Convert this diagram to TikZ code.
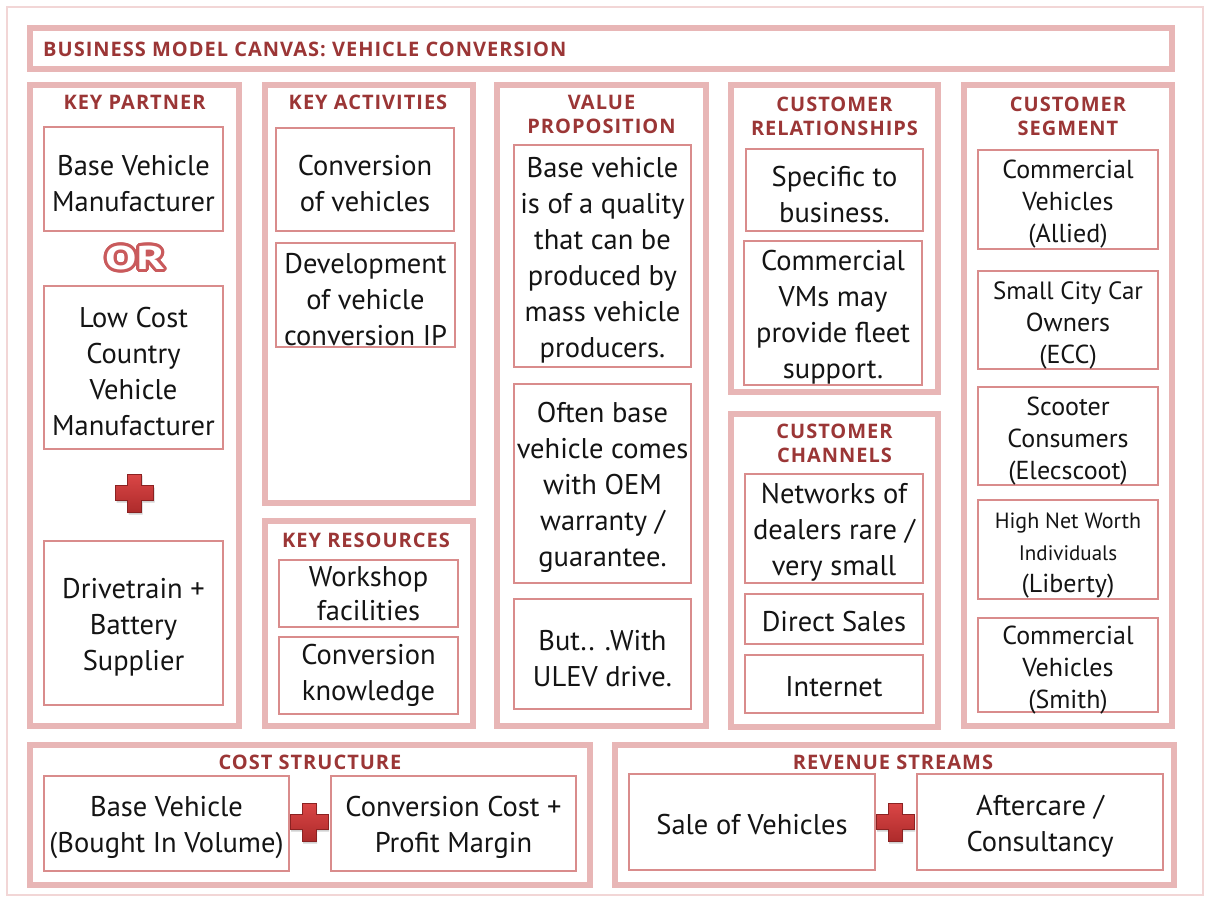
\documentclass[tikz,border=0pt]{standalone}
\usepackage{fontspec}
\setmainfont{PT Sans}
\newfontfamily\headfont{Open Sans}[LetterSpace=5]
\newcommand{\fl}{\rule{0pt}{28.5pt}}
\newcommand{\fls}{\rule{0pt}{28pt}}
\newcommand{\fone}{\rule{0pt}{25pt}}
\definecolor{framec}{HTML}{F2D6D6}
\definecolor{panelc}{HTML}{E8B6B6}
\definecolor{cellc}{HTML}{D98C8C}
\definecolor{headc}{HTML}{9B3636}
\definecolor{textc}{HTML}{141414}
\definecolor{plustop}{HTML}{DA4646}
\definecolor{plusbot}{HTML}{AE2B2B}
\definecolor{orc}{HTML}{C95A5C}
\tikzset{
  panel/.style={draw=panelc, line width=6pt, inner sep=0pt},
  cell/.style={draw=cellc, line width=2.5pt, fill=white, inner xsep=2pt, inner ysep=-12pt, align=center, text=textc,
    font=\fontsize{28.5}{36}\selectfont},
  cellS/.style={cell, font=\fontsize{26}{32}\selectfont},
  head/.style={text=headc, font=\headfont\bfseries\fontsize{20}{24}\selectfont, align=center, inner sep=0pt},
  orfont/.style={font=\bfseries\fontsize{33}{33}\selectfont, inner sep=0pt, xscale=1.42, transform shape},
  redplus/.pic={
    \fill[black, opacity=0.18] (-18,-5.5) -- (-6,-5.5) -- (-6,-17.5) -- (8,-17.5) -- (8,-5.5) -- (20,-5.5) -- (20,9.5) -- (8,9.5) -- (8,21.5) -- (-6,21.5) -- (-6,9.5) -- (-18,9.5) -- cycle;
    \shade[top color=plustop, bottom color=plusbot, draw=plusbot!80!black, line width=0.4pt]
      (-19,-7.5) -- (-7,-7.5) -- (-7,-19) -- (7,-19) -- (7,-7.5) -- (19,-7.5) -- (19,7.5) -- (7,7.5) -- (7,19) -- (-7,19) -- (-7,7.5) -- (-19,7.5) -- cycle;
  }
}
\begin{document}
\begin{tikzpicture}[x=1pt, y=-1pt]
\useasboundingbox (0,0) rectangle (1206,899);
\fill[white] (0,0) rectangle (1206,899);
\draw[framec, line width=1.5pt] (7,7) rectangle (1203,895);

% panels
\node[panel, minimum width=1142pt, minimum height=41pt] (titleP) at (601,48.5) {};
\node[panel, minimum width=209pt, minimum height=641pt] (kpP) at (134.5,405.5) {};
\node[panel, minimum width=208pt, minimum height=418pt] (kaP) at (369,294) {};
\node[panel, minimum width=208pt, minimum height=205pt] (krP) at (369,623.5) {};
\node[panel, minimum width=209pt, minimum height=641pt] (vpP) at (601.5,405.5) {};
\node[panel, minimum width=207pt, minimum height=307pt] (crP) at (834.5,238.5) {};
\node[panel, minimum width=207pt, minimum height=313pt] (ccP) at (834.5,570.5) {};
\node[panel, minimum width=208pt, minimum height=641pt] (csP) at (1068,405.5) {};
\node[panel, minimum width=560pt, minimum height=140pt] (coP) at (310,815) {};
\node[panel, minimum width=559pt, minimum height=140pt] (reP) at (894.5,815) {};

% headings
\node[head, anchor=west] (title) at (43,49) {BUSINESS MODEL CANVAS: VEHICLE CONVERSION};
\node[head] (kpH) at (134.5,102) {KEY PARTNER};
\node[head] (kaH) at (368,102) {KEY ACTIVITIES};
\node[head] (krH) at (366,540) {KEY RESOURCES};
\node[head] (vpH) at (601.5,114) {VALUE\\PROPOSITION};
\node[head] (crH) at (834.5,116) {CUSTOMER\\RELATIONSHIPS};
\node[head] (ccH) at (834.5,443.5) {CUSTOMER\\CHANNELS};
\node[head] (csH) at (1068,116) {CUSTOMER\\SEGMENT};
\node[head] (coH) at (310,762) {COST STRUCTURE};
\node[head] (reH) at (893,762) {REVENUE STREAMS};

% key partner
\node[cell, minimum width=179pt, minimum height=104pt] (kp1) at (133.5,179) {\fl Base Vehicle\\Manufacturer};
\node[cell, minimum width=179pt, minimum height=163pt] (kp2) at (133.5,367.5) {\fl Low Cost\\Country\\Vehicle\\Manufacturer};
\node[cell, minimum width=179pt, minimum height=164pt] (kp3) at (133.5,623) {\fl Drivetrain +\\Battery\\Supplier};
\foreach \i in {0,...,15}{
  \node[orfont, text=orc] (orc\i) at ({135+3.2*cos(\i*22.5)},{258+3.2*sin(\i*22.5)}) {OR};
}
\node[orfont, text=white] (or) at (135,258) {OR};
\pic (plus1) at (134.5,493) {redplus};

% key activities / resources
\node[cell, minimum width=178pt, minimum height=103pt] (ka1) at (365,179.5) {\fl Conversion\\of vehicles};
\node[cell, minimum width=179pt, minimum height=104pt] (ka2) at (365.5,295) {\fl Development\\of vehicle\\conversion IP};
\node[cell, minimum width=179pt, minimum height=67pt, font=\fontsize{28.5}{34}\selectfont] (kr1) at (368.5,593.5) {Workshop\\facilities};
\node[cell, minimum width=179pt, minimum height=77pt] (kr2) at (368.5,675.5) {Conversion\\knowledge};

% value proposition
\node[cell, minimum width=177pt, minimum height=222pt] (vp1) at (602.5,256) {\fl Base vehicle\\is of a quality\\that can be\\produced by\\mass vehicle\\producers.};
\node[cell, minimum width=177pt, minimum height=199pt] (vp2) at (602.5,483.5) {\fl Often base\\vehicle comes\\with OEM\\warranty /\\guarantee.};
\node[cell, minimum width=177pt, minimum height=110pt] (vp3) at (602.5,654) {\fl But.. .With\\ULEV drive.};

% customer relationships / channels
\node[cell, minimum width=177pt, minimum height=82pt] (cr1) at (834.5,190) {\fl Specific to\\business.};
\node[cell, minimum width=178pt, minimum height=144pt] (cr2) at (833,313) {\fl Commercial\\VMs may\\provide fleet\\support.};
\node[cell, minimum width=178pt, minimum height=109pt] (cc1) at (834,528.5) {\fl Networks of\\dealers rare /\\very small};
\node[cell, minimum width=178pt, minimum height=50pt] (cc2) at (834,619) {\fone Direct Sales};
\node[cell, minimum width=178pt, minimum height=58pt] (cc3) at (834,684) {\fone Internet};

% customer segment
\node[cellS, minimum width=180pt, minimum height=99pt] (cs1) at (1068,199.5) {\fls Commercial\\Vehicles\\(Allied)};
\node[cellS, minimum width=180pt, minimum height=98pt] (cs2) at (1068,320) {\fls{\fontsize{25}{32}\selectfont Small City Car}\\Owners\\(ECC)};
\node[cellS, minimum width=180pt, minimum height=98pt] (cs3) at (1068,436) {\fls Scooter\\Consumers\\(Elecscoot)};
\node[cellS, minimum width=180pt, minimum height=99pt] (cs4) at (1068,549.5) {\fls{\fontsize{22}{28}\selectfont High Net Worth}\\{\fontsize{21}{28}\selectfont Individuals}\\(Liberty)};
\node[cellS, minimum width=180pt, minimum height=94pt] (cs5) at (1068,665) {\fls Commercial\\Vehicles\\(Smith)};

% cost structure / revenue streams
\node[cell, minimum width=245pt, minimum height=95pt] (co1) at (166.5,823.5) {\fl Base Vehicle\\(Bought In Volume)};
\node[cell, minimum width=245pt, minimum height=95pt] (co2) at (453.5,823.5) {\fl Conversion Cost +\\Profit Margin};
\pic (plus2) at (309,822) {redplus};
\node[cell, minimum width=246pt, minimum height=96pt] (re1) at (752,822) {\fone Sale of Vehicles};
\node[cell, minimum width=246pt, minimum height=96pt] (re2) at (1040,822) {\fl Aftercare /\\Consultancy};
\pic (plus3) at (895,822) {redplus};
\end{tikzpicture}
\end{document}
